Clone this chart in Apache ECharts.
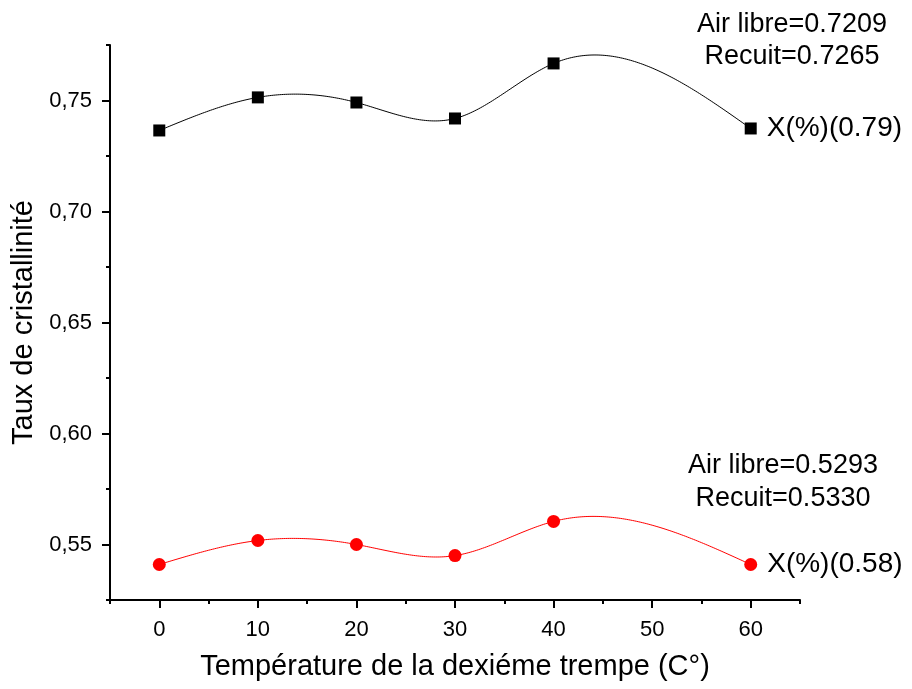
<!DOCTYPE html>
<html>
<head>
<meta charset="utf-8">
<script src="https://cdn.jsdelivr.net/npm/echarts@6/dist/echarts.min.js"></script>
<style>
  html, body { margin: 0; padding: 0; background: #fff; }
  #main { width: 912px; height: 689px; }
</style>
</head>
<body>
<div id="main"></div>
<script>
// temperatures de la deuxieme trempe
var temps = [0, 10, 20, 30, 40, 60];
// taux de cristallinite, serie X(%)(0.79)
var tauxNoir = [0.7365, 0.7514, 0.7491, 0.7419, 0.7667, 0.7374];
// taux de cristallinite, serie X(%)(0.58)
var tauxRouge = [0.5410, 0.5518, 0.5500, 0.5450, 0.5604, 0.5410];

var xMajor = [0, 10, 20, 30, 40, 50, 60];
var xMinor = [-5, 5, 15, 25, 35, 45, 55, 65];
var yMajor = [0.55, 0.60, 0.65, 0.70, 0.75];
var yMinor = [0.525, 0.575, 0.625, 0.675, 0.725, 0.775];

var font = "Liberation Sans, Arial, sans-serif";

// courbe spline naturelle passant par les points (comme dans Origin)
function splineCoef(xs, ys) {
  var n = xs.length, h = [], al = [], l = [1], mu = [0], z = [0];
  var c = new Array(n).fill(0), b = [], d = [];
  for (var i = 0; i < n - 1; i++) h[i] = xs[i + 1] - xs[i];
  for (var i = 1; i < n - 1; i++)
    al[i] = 3 / h[i] * (ys[i + 1] - ys[i]) - 3 / h[i - 1] * (ys[i] - ys[i - 1]);
  for (var i = 1; i < n - 1; i++) {
    l[i] = 2 * (xs[i + 1] - xs[i - 1]) - h[i - 1] * mu[i - 1];
    mu[i] = h[i] / l[i];
    z[i] = (al[i] - h[i - 1] * z[i - 1]) / l[i];
  }
  for (var j = n - 2; j >= 0; j--) {
    c[j] = (j === 0 ? 0 : z[j]) - mu[j] * c[j + 1];
    b[j] = (ys[j + 1] - ys[j]) / h[j] - h[j] * (c[j + 1] + 2 * c[j]) / 3;
    d[j] = (c[j + 1] - c[j]) / (3 * h[j]);
  }
  return function (x) {
    var k = 0;
    while (k < n - 2 && x > xs[k + 1]) k++;
    var dx = x - xs[k];
    return ys[k] + b[k] * dx + c[k] * dx * dx + d[k] * dx * dx * dx;
  };
}

function splineSeries(ys, color) {
  var f = splineCoef(temps, ys);
  return {
    type: 'custom',
    xAxisIndex: 0, yAxisIndex: 0,
    data: [[temps[0], ys[0]]],
    silent: true,
    z: 1,
    renderItem: function (params, api) {
      var pts = [];
      var x0 = temps[0], x1 = temps[temps.length - 1];
      for (var s = 0; s <= 300; s++) {
        var x = x0 + (x1 - x0) * s / 300;
        pts.push(api.coord([x, f(x)]));
      }
      return {
        type: 'polyline',
        shape: { points: pts },
        style: { stroke: color, lineWidth: 1, fill: null }
      };
    }
  };
}

var myChart = echarts.init(document.getElementById('main'));

var axisLineStyle = { color: '#000', width: 2 };

myChart.setOption({
  animation: false,
  backgroundColor: '#fff',
  grid: { left: 110, right: 112, top: 45, bottom: 89 },
  xAxis: [
    {
      type: 'value', min: -5, max: 65,
      name: 'Température de la dexiéme trempe (C°)',
      nameLocation: 'middle', nameGap: 52,
      nameTextStyle: { color: '#000', fontSize: 29, fontFamily: font },
      axisLine: { show: true, onZero: false, lineStyle: axisLineStyle },
      axisTick: { show: true, customValues: xMajor, length: 8, lineStyle: axisLineStyle },
      axisLabel: { customValues: xMajor, color: '#000', fontSize: 22, fontFamily: font, margin: 19 },
      splitLine: { show: false }
    },
    {
      type: 'value', min: -5, max: 65, position: 'bottom',
      axisLine: { show: false, onZero: false },
      axisTick: { show: true, customValues: xMinor, length: 4, lineStyle: axisLineStyle },
      axisLabel: { show: false },
      splitLine: { show: false }
    }
  ],
  yAxis: [
    {
      type: 'value', min: 0.525, max: 0.775,
      name: 'Taux de cristallinité',
      nameLocation: 'middle', nameGap: 70,
      nameTextStyle: { color: '#000', fontSize: 29, fontFamily: font },
      axisLine: { show: true, onZero: false, lineStyle: axisLineStyle },
      axisTick: { show: true, customValues: yMajor, length: 8, lineStyle: axisLineStyle },
      axisLabel: {
        customValues: yMajor, color: '#000', fontSize: 22, fontFamily: font, margin: 18,
        formatter: function (v) { return v.toFixed(2).replace('.', ','); }
      },
      splitLine: { show: false }
    },
    {
      type: 'value', min: 0.525, max: 0.775, position: 'left',
      axisLine: { show: false, onZero: false },
      axisTick: { show: true, customValues: yMinor, length: 4, lineStyle: axisLineStyle },
      axisLabel: { show: false },
      splitLine: { show: false }
    }
  ],
  series: [
    splineSeries(tauxNoir, '#000'),
    splineSeries(tauxRouge, '#ff0000'),
    {
      type: 'scatter',
      symbol: 'rect', symbolSize: 12,
      itemStyle: { color: '#000', opacity: 1 },
      z: 3,
      data: temps.map(function (t, i) { return [t, tauxNoir[i]]; }),
      label: {
        show: true, position: 'right', distance: 10,
        color: '#000', fontSize: 28, fontFamily: font,
        formatter: function (p) { return p.dataIndex === temps.length - 1 ? 'X(%)(0.79)' : ''; }
      }
    },
    {
      type: 'scatter',
      symbol: 'circle', symbolSize: 13,
      itemStyle: { color: '#ff0000', opacity: 1 },
      z: 3,
      data: temps.map(function (t, i) { return [t, tauxRouge[i]]; }),
      label: {
        show: true, position: 'right', distance: 10,
        color: '#000', fontSize: 28, fontFamily: font,
        formatter: function (p) { return p.dataIndex === temps.length - 1 ? 'X(%)(0.58)' : ''; }
      }
    }
  ],
  graphic: [
    {
      type: 'text', x: 792, y: 41,
      style: {
        text: 'Air libre=0.7209\nRecuit=0.7265', fill: '#000',
        font: '27px ' + font, align: 'center', verticalAlign: 'middle', lineHeight: 32
      }
    },
    {
      type: 'text', x: 783, y: 482,
      style: {
        text: 'Air libre=0.5293\nRecuit=0.5330', fill: '#000',
        font: '27px ' + font, align: 'center', verticalAlign: 'middle', lineHeight: 33
      }
    }
  ]
});
</script>
</body>
</html>
